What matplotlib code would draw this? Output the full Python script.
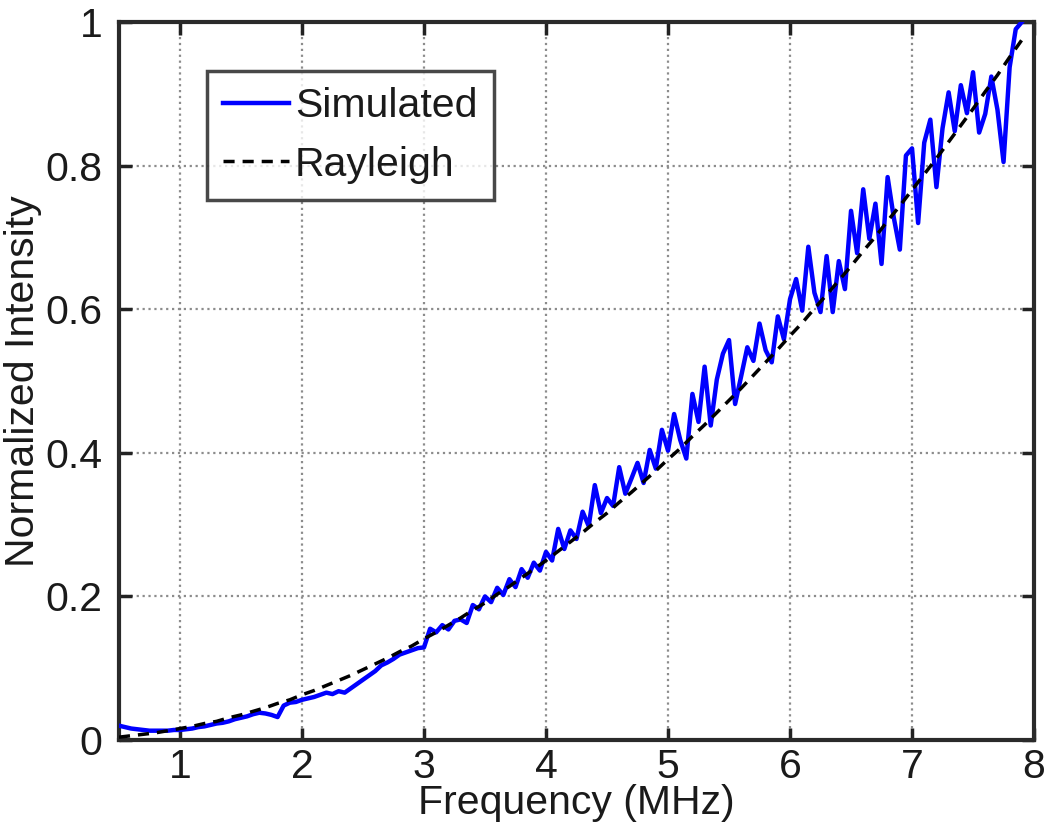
import matplotlib
matplotlib.use('Agg')
from matplotlib import pyplot as plt
from numpy import arange, array

plt.rcParams['font.family'] = ['Liberation Sans', 'DejaVu Sans']

# simulated spectrum, step 0.05 MHz from 0.5 to 7.9
f_sim = arange(0.5, 7.901, 0.05)
sim = array([
    0.020, 0.018, 0.016, 0.015, 0.014, 0.013, 0.013, 0.013, 0.013, 0.014,
    0.014, 0.015, 0.016, 0.018, 0.019, 0.021, 0.023, 0.024, 0.026, 0.029,
    0.031, 0.033, 0.036, 0.038, 0.037, 0.035, 0.032, 0.048, 0.052, 0.053,
    0.056, 0.058, 0.060, 0.063, 0.066, 0.064, 0.068, 0.066, 0.072, 0.078,
    0.084, 0.090, 0.096, 0.104, 0.108, 0.113, 0.119, 0.122, 0.125, 0.128,
    0.129, 0.155, 0.150, 0.160, 0.154, 0.166, 0.168, 0.163, 0.188, 0.182,
    0.200, 0.192, 0.212, 0.202, 0.224, 0.213, 0.238, 0.226, 0.247, 0.236,
    0.262, 0.250, 0.294, 0.266, 0.292, 0.280, 0.318, 0.298, 0.355, 0.316,
    0.337, 0.326, 0.380, 0.343, 0.364, 0.386, 0.358, 0.404, 0.378, 0.432,
    0.403, 0.454, 0.418, 0.392, 0.482, 0.443, 0.520, 0.438, 0.502, 0.538,
    0.557, 0.468, 0.507, 0.547, 0.528, 0.580, 0.543, 0.526, 0.590, 0.558,
    0.614, 0.642, 0.598, 0.687, 0.623, 0.596, 0.674, 0.596, 0.667, 0.628,
    0.737, 0.678, 0.767, 0.698, 0.747, 0.663, 0.784, 0.728, 0.683, 0.814,
    0.824, 0.720, 0.832, 0.864, 0.770, 0.852, 0.902, 0.848, 0.912, 0.873,
    0.930, 0.846, 0.872, 0.924, 0.878, 0.805, 0.937, 0.990, 1.000,
])

# Rayleigh fit, step 0.1 MHz from 0.5 to 7.9
f_ray = arange(0.5, 7.901, 0.1)
ray = array([
    0.004, 0.006, 0.008, 0.010, 0.013, 0.016, 0.019, 0.023, 0.026, 0.031,
    0.035, 0.040, 0.045, 0.051, 0.056, 0.063, 0.069, 0.076, 0.083, 0.090,
    0.098, 0.106, 0.114, 0.123, 0.131, 0.141, 0.150, 0.160, 0.170, 0.181,
    0.191, 0.203, 0.214, 0.226, 0.238, 0.250, 0.263, 0.276, 0.289, 0.303,
    0.316, 0.331, 0.345, 0.360, 0.375, 0.391, 0.406, 0.423, 0.439, 0.456,
    0.473, 0.490, 0.508, 0.526, 0.544, 0.563, 0.581, 0.601, 0.620, 0.640,
    0.660, 0.681, 0.701, 0.723, 0.744, 0.766, 0.788, 0.810, 0.833, 0.856,
    0.879, 0.903, 0.926, 0.951, 0.975,
])

xticks = [1, 2, 3, 4, 5, 6, 7, 8]
yticks = [0, 0.2, 0.4, 0.6, 0.8, 1]
ytick_labels = ['0', '0.2', '0.4', '0.6', '0.8', '1']

txt = '#1a1a1a'
fs = 29.5

fig = plt.figure(figsize=(10.5, 8.36), dpi=100)
ax = fig.add_axes([0.1133, 0.1148, 0.8715, 0.8589])

ax.plot(f_sim, sim, color='#0000ff', lw=3.2, label='Simulated', zorder=3)
ax.plot(f_ray, ray, color='black', lw=2.5, ls=(0, (3.2, 2.3)), label='Rayleigh', zorder=4)

ax.set_xlim(0.5, 8)
ax.set_ylim(0, 1)
ax.set_xticks(xticks)
ax.set_yticks(yticks)
ax.set_yticklabels(ytick_labels)
ax.grid(True, color='#8c8c8c', ls=':', lw=1.6)
ax.set_axisbelow(True)

ax.tick_params(direction='in', length=9, width=2.5, top=True, right=True,
               labelsize=fs, colors='#222222', labelcolor=txt)
ax.tick_params(axis='y', pad=12)
ax.tick_params(axis='x', pad=6)
for s in ax.spines.values():
    s.set_linewidth(3)
    s.set_color('#2a2a2a')

ax.set_xlabel('Frequency (MHz)', fontsize=fs, color=txt, labelpad=-2)
ax.set_ylabel('Normalized Intensity', fontsize=fs, color=txt, labelpad=2)

leg = ax.legend(loc='upper left', bbox_to_anchor=(0.096, 0.932), fontsize=fs,
                frameon=True, fancybox=False, handlelength=1.6, handletextpad=0.15,
                labelspacing=0.5, borderpad=0.4, borderaxespad=0)
leg.get_frame().set_edgecolor('#1a1a1a')
leg.get_frame().set_linewidth(2.5)
for t in leg.get_texts():
    t.set_color(txt)

fig.savefig('out.png', dpi=100)
